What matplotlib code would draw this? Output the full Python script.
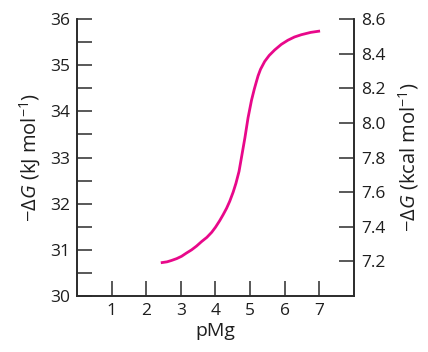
import matplotlib
matplotlib.use("Agg")
import matplotlib.pyplot as plt

pmg = [2.42, 2.60, 2.73, 2.88, 3.02, 3.16, 3.31, 3.45, 3.60, 3.75, 3.89, 4.00, 4.12, 4.22,
       4.32, 4.41, 4.51, 4.59, 4.68, 4.75, 4.85, 4.94, 5.04, 5.12, 5.18, 5.23, 5.30,
       5.42, 5.55, 5.71, 5.90, 6.09, 6.28, 6.48, 6.75, 7.02]
dG_kj = [30.72, 30.74, 30.77, 30.81, 30.86, 30.93, 31.00, 31.08, 31.18, 31.27, 31.38, 31.49,
         31.63, 31.76, 31.90, 32.05, 32.25, 32.44, 32.70, 33.00, 33.43, 33.86, 34.24, 34.48,
         34.64, 34.77, 34.91, 35.08, 35.21, 35.33, 35.45, 35.54, 35.61, 35.66, 35.71, 35.74]

x_ticks = [1, 2, 3, 4, 5, 6, 7]
left_major = [30, 31, 32, 33, 34, 35, 36]
left_minor = [30.5, 31.5, 32.5, 33.5, 34.5, 35.5]
right_ticks = [7.2, 7.4, 7.6, 7.8, 8.0, 8.2, 8.4, 8.6]

plt.rcParams['font.family'] = ['Open Sans', 'DejaVu Sans']
plt.rcParams['mathtext.fontset'] = 'custom'
plt.rcParams['mathtext.rm'] = 'Open Sans'
plt.rcParams['mathtext.it'] = 'Open Sans:italic'

fig = plt.figure(figsize=(4.28, 3.52), dpi=100)
ax = fig.add_axes([77/428, 1-296/352, (354-77)/428, (296-19)/352])
ax2 = ax.twinx()

ink = '#2b2b2b'
txt = '#1e1e1e'
ax.plot(pmg, dG_kj, color='#e8088a', lw=2.0, solid_capstyle='butt', solid_joinstyle='round')
ax.set_xlim(0, 8)
ax.set_ylim(30, 36)
ax2.set_ylim(7.0, 8.6)

ax.set_xticks(x_ticks)
ax.set_yticks(left_major)
ax.set_yticks(left_minor, minor=True)
ax2.set_yticks(right_ticks)
ax2.set_yticklabels([f"{v:.1f}" for v in right_ticks])

for a in (ax, ax2):
    for s in a.spines.values():
        s.set_color(ink)
        s.set_linewidth(1.2)
    a.spines['top'].set_visible(False)

ax.tick_params(axis='both', which='both', direction='in', length=11, width=1.1,
               color=ink, labelsize=12.5, labelcolor=txt, pad=5)
ax.tick_params(axis='y', which='both', right=False)
ax2.tick_params(axis='y', direction='in', length=11, width=1.1, color=ink,
                labelsize=12.5, labelcolor=txt, pad=5)

ax.set_xlabel('pMg', fontsize=14, color=txt, labelpad=2)
ax.set_ylabel(r'$-\Delta\mathit{G}$ (kJ mol$^{-1}$)', fontsize=14.5, color=txt, labelpad=5)
ax2.set_ylabel(r'$-\Delta\mathit{G}$ (kcal mol$^{-1}$)', fontsize=14.5, color=txt, labelpad=8)

fig.savefig('out.png', dpi=100)
